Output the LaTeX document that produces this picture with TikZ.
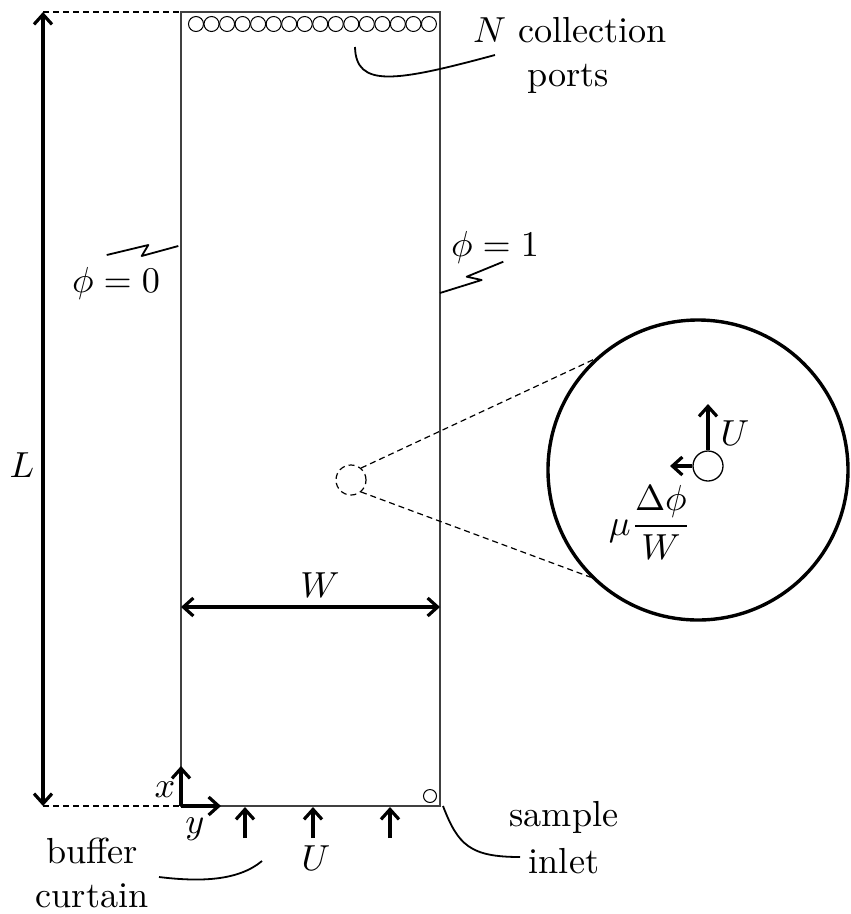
\documentclass[tikz,border=0pt]{standalone}
\usetikzlibrary{arrows.meta}
\newcommand{\bigtx}[1]{\scalebox{3.62}{#1}}
\begin{document}
\begin{tikzpicture}[x=1pt,y=-1pt,
  lbl/.style={inner sep=0pt, anchor=base},
  frame/.style={line width=1.3pt, draw=black!75},
  port/.style={circle, draw, minimum size=15pt, inner sep=0pt, line width=1pt},
  bigarrow/.style={line width=3.2pt, arrows={-Straight Barb[length=10pt,width=18pt]}},
  dblarrow/.style={line width=3.2pt, arrows={Straight Barb[length=10pt,width=18pt]-Straight Barb[length=10pt,width=18pt]}},
  leader/.style={line width=1.8pt, line join=round},
  guide/.style={line width=1.2pt, dash pattern=on 6pt off 4pt}]
\useasboundingbox (0,0) rectangle (851,914);

% main channel
\coordinate (tl) at (181,12);
\coordinate (br) at (440,806);
\coordinate (bl) at (181,806);
\coordinate (tr) at (440,12);
\draw[frame] (tl) rectangle (br);

% collection ports
\foreach \i in {0,...,15} \node[port] (p\i) at ({196+15.53*\i},24) {};

% sample inlet port
\node[port, minimum size=13pt] (inport) at (430,796) {};

% L dimension
\coordinate (Ltop) at (43,12);
\coordinate (Lbot) at (43,806);
\draw[guide] (Ltop) -- (tl);
\draw[guide] (Lbot) -- (bl);
\draw[dblarrow] (Ltop) -- (Lbot);
\node[lbl] (Llab) at (22,477) {\bigtx{$L$}};

% W dimension
\coordinate (Wl) at (181,607);
\coordinate (Wr) at (440,607);
\draw[dblarrow] (Wl) -- (Wr);
\node[lbl] (Wlab) at (320,597) {\bigtx{$W$}};

% axes
\coordinate (xax) at (181,766);
\coordinate (yax) at (221,806);
\draw[bigarrow] (bl) -- (xax);
\draw[bigarrow] (bl) -- (yax);
\node[lbl] (xlab) at (165,797) {\bigtx{$x$}};
\node[lbl] (ylab) at (195,833) {\bigtx{$y$}};

% inflow arrows
\foreach \xx/\nm in {245/a,313/b,390/c} {
  \coordinate (u\nm s) at (\xx,838);
  \coordinate (u\nm e) at (\xx,807);
  \draw[bigarrow] (u\nm s) -- (u\nm e);
}
\node[lbl] (Ulab) at (316,870) {\bigtx{$U$}};

% labels
\node[lbl] (Nline) at (570,42) {\bigtx{$N$ collection}};
\node[lbl] (ports) at (568,86) {\bigtx{ports}};
\node[lbl] (phi0) at (116,292) {\bigtx{$\phi=0$}};
\node[lbl] (phi1) at (495,256) {\bigtx{$\phi=1$}};
\node[lbl] (buffer) at (92,863) {\bigtx{buffer}};
\node[lbl] (curtain) at (92,907) {\bigtx{curtain}};
\node[lbl] (sample) at (564,826) {\bigtx{sample}};
\node[lbl] (inlet) at (564,873) {\bigtx{inlet}};

% leaders
\coordinate (pl1) at (355,47);
\coordinate (pl2) at (495,55);
\draw[leader] (pl1) .. controls (356,88) and (395,82) .. (pl2);
\coordinate (sl1) at (443,806);
\coordinate (sl2) at (520,857);
\draw[leader] (sl1) .. controls (458,845) and (470,857) .. (sl2);
\coordinate (bl1) at (159,877);
\coordinate (bl2) at (262,861);
\draw[leader] (bl1) .. controls (200,882) and (238,881) .. (bl2);

% wall squiggles
\coordinate (q0a) at (106.7,255);
\coordinate (q0b) at (148.3,245);
\coordinate (q0c) at (141.7,256);
\coordinate (q0d) at (178.3,246);
\draw[leader] (q0a) -- (q0b) -- (q0c) -- (q0d);
\coordinate (q1a) at (440,293);
\coordinate (q1b) at (481.7,280);
\coordinate (q1c) at (466.7,276.7);
\coordinate (q1d) at (503.3,261.7);
\draw[leader] (q1a) -- (q1b) -- (q1c) -- (q1d);

% zoom
\node[circle, draw, guide, minimum size=30pt, inner sep=0pt] (zc) at (351,480) {};
\node[circle, draw, line width=3.4pt, minimum size=300pt, inner sep=0pt] (bigc) at (698,470) {};
\draw[guide] (zc.50) -- (bigc.133.7);
\draw[guide] (zc.310) -- (bigc.225.5);

\node[circle, draw, line width=1.3pt, minimum size=30pt, inner sep=0pt] (pt) at (708,466) {};
\coordinate (upend) at (708,404);
\coordinate (lfend) at (670,466);
\draw[bigarrow] (pt.north) -- (upend);
\draw[bigarrow] (pt.west) -- (lfend);
\node[lbl] (Uin) at (735,445) {\bigtx{$U$}};
\node[lbl] (mu) at (650,535) {\bigtx{$\mu\displaystyle\frac{\Delta\phi}{W}$}};
\end{tikzpicture}
\end{document}
